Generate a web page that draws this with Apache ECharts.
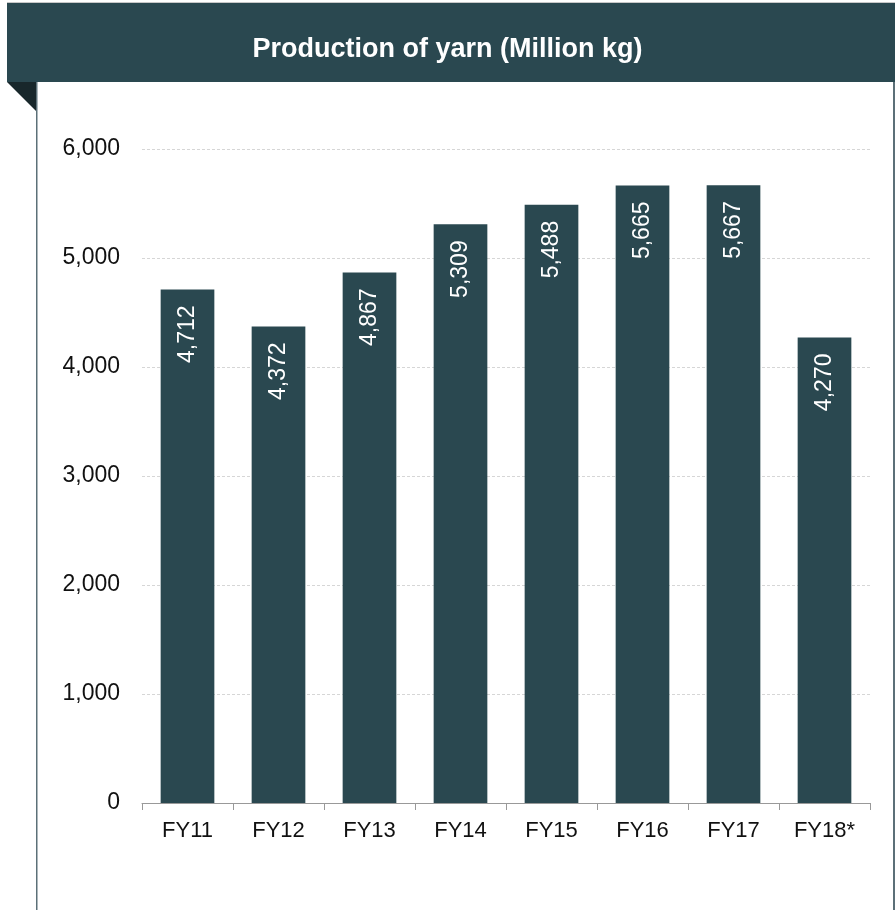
<!DOCTYPE html>
<html>
<head>
<meta charset="utf-8">
<script src="https://cdn.jsdelivr.net/npm/echarts@6/dist/echarts.min.js"></script>
<style>
  html, body { margin: 0; padding: 0; background: #fff; }
  #vis { width: 895px; height: 910px; }
</style>
</head>
<body>
<div id="vis"></div>
<script>
// chart data
const categories = ['FY11', 'FY12', 'FY13', 'FY14', 'FY15', 'FY16', 'FY17', 'FY18*'];
const production = [4712, 4372, 4867, 5309, 5488, 5665, 5667, 4270];
const yTicks = [0, 1000, 2000, 3000, 4000, 5000, 6000];

const teal = '#2a4850';
const font = 'Liberation Sans, Arial, sans-serif';

const chart = echarts.init(document.getElementById('vis'), null, { renderer: 'canvas' });

const options = {
  animation: false,
  textStyle: { fontFamily: font },
  title: {
    text: 'Production of yarn (Million kg)',
    left: 'center',
    top: 31,
    textStyle: { color: '#fff', fontSize: 27, fontWeight: 'bold', fontFamily: font }
  },
  graphic: [
    { type: 'rect', shape: { x: 7, y: 2, width: 888, height: 1 }, style: { fill: '#c8c8c8' }, z: -1 },
    { type: 'rect', shape: { x: 7, y: 3, width: 888, height: 79 }, style: { fill: teal }, z: -1 },
    { type: 'polygon', shape: { points: [[7, 82], [36, 82], [36, 111]] }, style: { fill: '#18272b' }, z: -1 },
    { type: 'rect', shape: { x: 36, y: 82, width: 1.5, height: 828 }, style: { fill: '#5c7078' }, z: -1 },
    { type: 'rect', shape: { x: 893, y: 82, width: 2, height: 828 }, style: { fill: '#5c7078' }, z: -1 }
  ],
  grid: { left: 142, right: 25, top: 149, bottom: 107 },
  xAxis: {
    type: 'category',
    data: categories,
    axisLine: { lineStyle: { color: '#999', width: 1 } },
    axisTick: { show: true, length: 7, lineStyle: { color: '#999' } },
    axisLabel: { color: '#111', fontSize: 22, margin: 17, fontFamily: font }
  },
  yAxis: {
    type: 'value',
    min: yTicks[0],
    max: yTicks[yTicks.length - 1],
    interval: 1000,
    axisLine: { show: false },
    axisTick: { show: false },
    axisLabel: {
      color: '#111', fontSize: 23, margin: 22, fontFamily: font,
      formatter: v => v.toLocaleString('en-US')
    },
    splitLine: { lineStyle: { color: '#d6d6d6', type: [3, 2], width: 1 } }
  },
  series: [
    {
      type: 'bar',
      data: production,
      barWidth: '59%',
      itemStyle: { color: teal },
      label: {
        show: true,
        position: 'insideTop',
        distance: 16,
        rotate: 90,
        align: 'right',
        verticalAlign: 'middle',
        color: '#fff',
        fontSize: 23,
        fontFamily: font,
        formatter: p => p.value.toLocaleString('en-US')
      }
    }
  ]
};

chart.setOption(options);
window.addEventListener('resize', () => chart.resize());
</script>
</body>
</html>
